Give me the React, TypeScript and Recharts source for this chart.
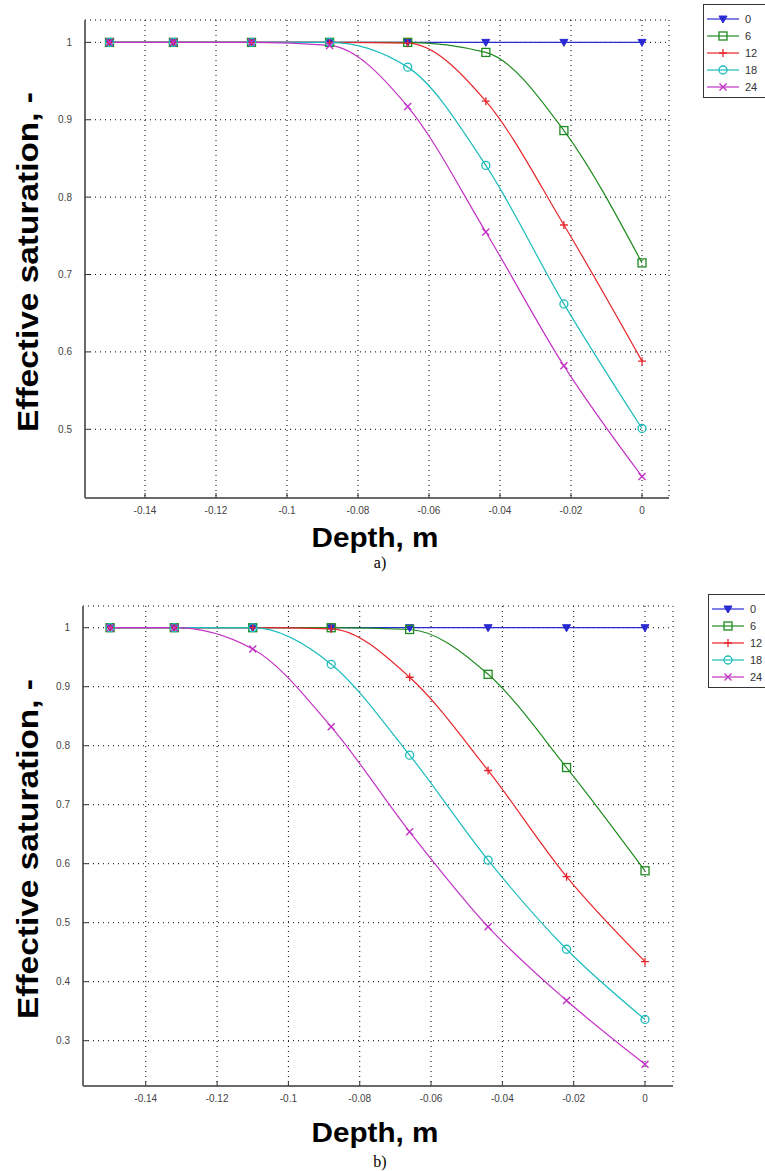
import { CartesianGrid, Legend, Line, LineChart, XAxis, YAxis } from 'recharts';

// depth of each marked point, m
const depths = [-0.15, -0.132, -0.11, -0.088, -0.066, -0.044, -0.022, 0];
const seriesNames = ['0', '6', '12', '18', '24'];

// panel a)
const aSat0 = [1, 1, 1, 1, 1, 1, 1, 1];
const aSat6 = [1, 1, 1, 1, 1, 0.987, 0.886, 0.715];
const aSat12 = [1, 1, 1, 1, 0.999, 0.924, 0.764, 0.588];
const aSat18 = [1, 1, 1, 1, 0.968, 0.841, 0.662, 0.501];
const aSat24 = [1, 1, 1, 0.996, 0.917, 0.755, 0.582, 0.439];

// panel b)
const bSat0 = [1, 1, 1, 1, 1, 1, 1, 1];
const bSat6 = [1, 1, 1, 1, 0.997, 0.921, 0.763, 0.588];
const bSat12 = [1, 1, 1, 0.998, 0.916, 0.758, 0.578, 0.434];
const bSat18 = [1, 1, 1, 0.938, 0.784, 0.606, 0.455, 0.336];
const bSat24 = [1, 1, 0.964, 0.832, 0.654, 0.493, 0.368, 0.26];

const xTicks = [-0.14, -0.12, -0.1, -0.08, -0.06, -0.04, -0.02, 0];
const yTicksA = [0.5, 0.6, 0.7, 0.8, 0.9, 1];
const yTicksB = [0.3, 0.4, 0.5, 0.6, 0.7, 0.8, 0.9, 1];

const colors = ['#2a2ad2', '#1f8a1f', '#e8262b', '#1cbcbc', '#c232c4'];
const markerKinds = ['triangle', 'square', 'plus', 'circle', 'cross'];
const keys = ['s0', 's6', 's12', 's18', 's24'];

const font = '"Liberation Sans", Arial, sans-serif';
const frame = '#6a6a6a';

function buildRows(series: number[][]) {
	return depths.map((d, i) => {
		const row: Record<string, number> = { depth: d };
		series.forEach((s, k) => {
			row[keys[k]] = s[i];
		});
		return row;
	});
}

const rowsA = buildRows([aSat0, aSat6, aSat12, aSat18, aSat24]);
const rowsB = buildRows([bSat0, bSat6, bSat12, bSat18, bSat24]);

function Marker({ kind, cx, cy, color }: { kind: string; cx: number; cy: number; color: string }) {
	const s = 4;
	if (kind === 'triangle')
		return <path d={`M${cx - s},${cy - 3} L${cx + s},${cy - 3} L${cx},${cy + 4} Z`} fill={color} stroke={color} strokeWidth={1} />;
	if (kind === 'square')
		return <rect x={cx - s} y={cy - s} width={2 * s} height={2 * s} fill="none" stroke={color} strokeWidth={1.3} />;
	if (kind === 'plus')
		return <path d={`M${cx - s},${cy} L${cx + s},${cy} M${cx},${cy - s} L${cx},${cy + s}`} stroke={color} strokeWidth={1.3} />;
	if (kind === 'circle') return <circle cx={cx} cy={cy} r={s} fill="none" stroke={color} strokeWidth={1.3} />;
	return <path d={`M${cx - 3.5},${cy - 3.5} L${cx + 3.5},${cy + 3.5} M${cx - 3.5},${cy + 3.5} L${cx + 3.5},${cy - 3.5}`} stroke={color} strokeWidth={1.4} />;
}

const BottomTick = (p: any) => (
	<g>
		<line x1={p.x} x2={p.x} y1={p.y} y2={p.y - 5} stroke="#333" />
		<text x={p.x} y={p.y + 16} textAnchor="middle" fontSize={10} fill="#444" fontFamily={font}>
			{String(p.payload.value)}
		</text>
	</g>
);
const TopTick = (p: any) => <line x1={p.x} x2={p.x} y1={p.y} y2={p.y + 5} stroke="#333" />;
const LeftTick = (p: any) => (
	<g>
		<line x1={p.x} x2={p.x + 5} y1={p.y} y2={p.y} stroke="#333" />
		<text x={p.x - 13} y={p.y + 3.5} textAnchor="end" fontSize={10} fill="#444" fontFamily={font}>
			{String(p.payload.value)}
		</text>
	</g>
);
const RightTick = (p: any) => <line x1={p.x} x2={p.x - 5} y1={p.y} y2={p.y} stroke="#333" />;

function LegendBox() {
	return (
		<div
			style={{
				border: '1px solid #333',
				background: '#fff',
				padding: '5px 0 2px 3px',
				width: 70,
				fontFamily: font,
				fontSize: 11,
				color: '#333',
			}}
		>
			{seriesNames.map((n, i) => (
				<div key={n} style={{ display: 'flex', alignItems: 'center', height: 17 }}>
					<svg width={32} height={12}>
						<line x1={0} x2={32} y1={6} y2={6} stroke={colors[i]} strokeWidth={1.2} />
						<Marker kind={markerKinds[i]} cx={16} cy={6} color={colors[i]} />
					</svg>
					<span style={{ marginLeft: 6 }}>{n}</span>
				</div>
			))}
		</div>
	);
}

type PanelProps = {
	rows: Record<string, number>[];
	yTicks: number[];
	xDomain: [number, number];
	yDomain: [number, number];
	height: number;
	margin: { top: number; right: number; bottom: number; left: number };
	yAxisWidth: number;
	yTitleY: number;
	depthBaseline: number;
	caption: string;
	captionBaseline: number;
	legendPos: { left: number; top: number };
};

function Panel(props: PanelProps) {
	const { rows, yTicks, xDomain, yDomain, height, margin, yAxisWidth } = props;
	return (
		<LineChart width={765} height={height} data={rows} margin={margin}>
			<CartesianGrid stroke="#000" strokeDasharray="1 4" />
			<XAxis
				dataKey="depth"
				type="number"
				domain={xDomain}
				ticks={xTicks}
				allowDataOverflow
				height={80}
				tickSize={0}
				tickMargin={0}
				tickLine={false}
				tick={BottomTick}
				axisLine={{ stroke: frame, strokeWidth: 2 }}
				label={{
					content: () => (
						<g>
							<text
								x={375}
								y={props.depthBaseline}
								textAnchor="middle"
								fontSize={27}
								fontWeight="bold"
								fontFamily={font}
								fill="#000"
								textLength={127}
								lengthAdjust="spacingAndGlyphs"
							>
								Depth, m
							</text>
							<text x={380} y={props.captionBaseline} textAnchor="middle" fontSize={16} fontFamily='"Liberation Serif", serif' fill="#000">
								{props.caption}
							</text>
						</g>
					),
				}}
			/>
			<XAxis
				xAxisId="top"
				orientation="top"
				dataKey="depth"
				type="number"
				domain={xDomain}
				ticks={xTicks}
				allowDataOverflow
				height={0}
				tickSize={0}
				tickMargin={0}
				tickLine={false}
				tick={TopTick}
				axisLine={{ stroke: frame, strokeWidth: 2 }}
			/>
			<YAxis
				type="number"
				domain={yDomain}
				ticks={yTicks}
				allowDataOverflow
				width={yAxisWidth}
				tickSize={0}
				tickMargin={0}
				tickLine={false}
				tick={LeftTick}
				axisLine={{ stroke: frame, strokeWidth: 2 }}
				label={{
					content: () => (
						<text
							transform={`translate(38, ${props.yTitleY}) rotate(-90)`}
							textAnchor="middle"
							fontSize={29}
							fontWeight="bold"
							fontFamily={font}
							fill="#000"
							textLength={340}
							lengthAdjust="spacingAndGlyphs"
						>
							Effective saturation, -
						</text>
					),
				}}
			/>
			<YAxis
				yAxisId="right"
				orientation="right"
				type="number"
				domain={yDomain}
				ticks={yTicks}
				allowDataOverflow
				width={0}
				tickSize={0}
				tickMargin={0}
				tickLine={false}
				tick={RightTick}
				axisLine={{ stroke: frame, strokeWidth: 2 }}
			/>
			<Legend
				layout="vertical"
				align="center"
				verticalAlign="middle"
				wrapperStyle={{ left: props.legendPos.left, top: props.legendPos.top, width: 76 }}
				content={() => <LegendBox />}
			/>
			{keys.map((k, i) => (
				<Line
					key={k}
					dataKey={k}
					name={seriesNames[i]}
					type="monotone"
					stroke={colors[i]}
					strokeWidth={1.2}
					isAnimationActive={false}
					dot={(d: any) => <Marker key={`${k}-${d.index}`} kind={markerKinds[i]} cx={d.cx} cy={d.cy} color={colors[i]} />}
					activeDot={false}
				/>
			))}
		</LineChart>
	);
}

export default function App() {
	return (
		<div style={{ position: 'absolute', left: 0, top: 0, width: 765, height: 1171, overflow: 'hidden', background: '#fff' }}>
			<div style={{ position: 'absolute', left: 0, top: 0 }}>
				<Panel
					rows={rowsA}
					yTicks={yTicksA}
					xDomain={[-0.1569, 0.0076]}
					yDomain={[0.4112, 1.0289]}
					height={580}
					margin={{ top: 20, right: 96, bottom: 2, left: 0 }}
					yAxisWidth={85}
					yTitleY={262}
					depthBaseline={547}
					caption="a)"
					captionBaseline={568}
					legendPos={{ left: 703, top: 4 }}
				/>
			</div>
			<div style={{ position: 'absolute', left: 0, top: 580 }}>
				<Panel
					rows={rowsB}
					yTicks={yTicksB}
					xDomain={[-0.1576, 0.00785]}
					yDomain={[0.2232, 1.0368]}
					height={591}
					margin={{ top: 26, right: 92, bottom: 5, left: 0 }}
					yAxisWidth={83}
					yTitleY={269}
					depthBaseline={562}
					caption="b)"
					captionBaseline={587}
					legendPos={{ left: 708, top: 14 }}
				/>
			</div>
		</div>
	);
}
